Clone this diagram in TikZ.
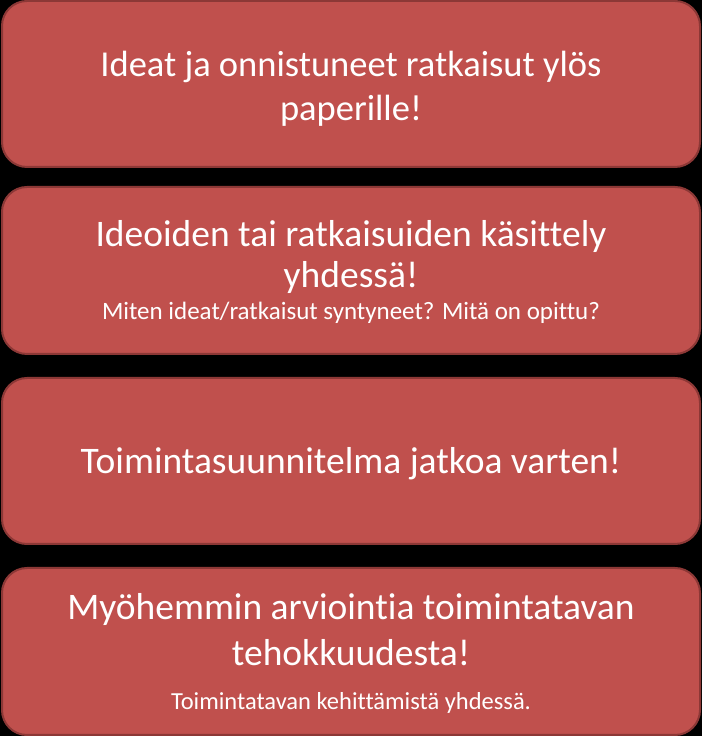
\documentclass[tikz,border=0pt]{standalone}
\usepackage{fontspec}
\setmainfont{Carlito}[Ligatures=NoCommon]
\definecolor{boxfill}{HTML}{C0504D}
\definecolor{boxline}{HTML}{8C3836}
\begin{document}
\begin{tikzpicture}[x=1pt,y=1pt,
  card/.style={fill=boxfill,draw=boxline,line width=2pt,rounded corners=25pt},
  big/.style={text=white,anchor=base,inner sep=0pt,font=\fontsize{37.5}{44}\selectfont},
  small/.style={text=white,anchor=base,inner sep=0pt,font=\fontsize{25}{30}\selectfont}]
\fill[black] (0,0) rectangle (702,736);
\useasboundingbox (0,0) rectangle (702,736);
% boxes
\draw[card] (2,569) rectangle (700,735);
\draw[card] (2,382) rectangle (700,549);
\draw[card] (2,192) rectangle (700,358);
\draw[card] (2,1) rectangle (700,168);
% box 1
\node[big,font=\fontsize{36.5}{44}\selectfont] (t1a) at (351,659) {Ideat ja onnistuneet ratkaisut ylös};
\node[big,font=\fontsize{36.5}{44}\selectfont] (t1b) at (351,615) {paperille!};
% box 2
\node[big] (t2a) at (351,489) {Ideoiden tai ratkaisuiden käsittely};
\node[big] (t2b) at (351,448) {yhdessä!};
\node[small] (t2c) at (351,416) {Miten ideat/ratkaisut syntyneet? Mitä on opittu?};
% box 3
\node[big] (t3a) at (351,262) {Toimintasuunnitelma jatkoa varten!};
% box 4
\node[big] (t4a) at (351,116) {Myöhemmin arviointia toimintatavan};
\node[big] (t4b) at (351,70) {tehokkuudesta!};
\node[small,font=\fontsize{24.5}{30}\selectfont] (t4c) at (351,27) {Toimintatavan kehittämistä yhdessä.};
\end{tikzpicture}
\end{document}
